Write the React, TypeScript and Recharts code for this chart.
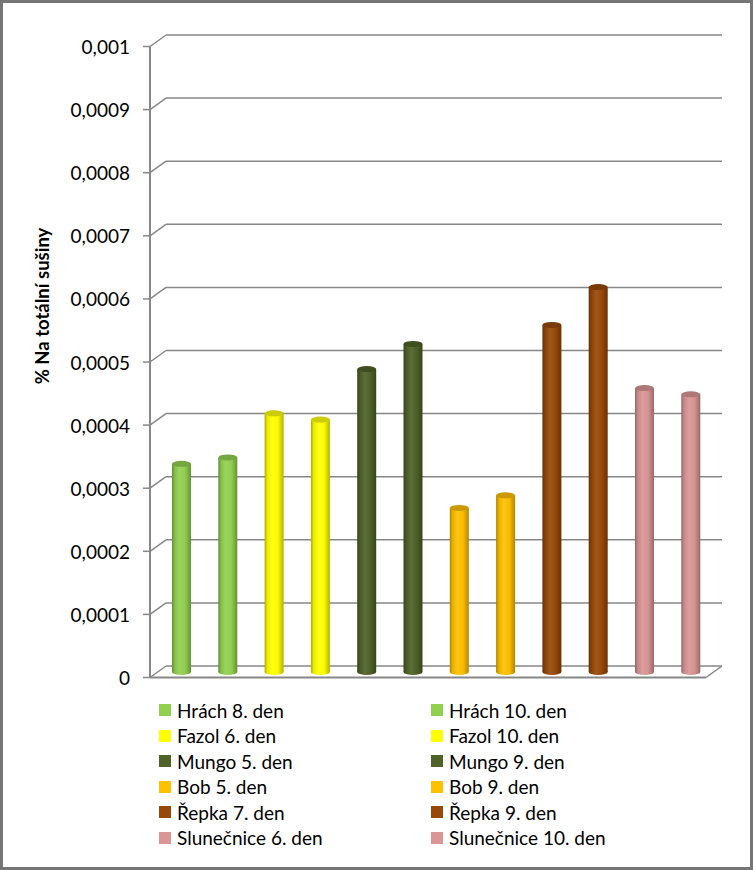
import { BarChart, Bar, XAxis, YAxis, CartesianGrid } from "recharts";

const categories = [
  "Hrách 8. den",
  "Hrách 10. den",
  "Fazol 6. den",
  "Fazol 10. den",
  "Mungo 5. den",
  "Mungo 9. den",
  "Bob 5. den",
  "Bob 9. den",
  "Řepka 7. den",
  "Řepka 9. den",
  "Slunečnice 6. den",
  "Slunečnice 10. den",
];
const values = [
  0.00033, 0.00034, 0.00041, 0.0004, 0.00048, 0.00052, 0.00026, 0.00028,
  0.00055, 0.00061, 0.00045, 0.00044,
];
const colors = [
  "#92D050", "#92D050", "#FFFF00", "#FFFF00", "#4F6228", "#4F6228",
  "#FFC000", "#FFC000", "#984807", "#984807", "#D99694", "#D99694",
];
const yTicks = [0, 0.0001, 0.0002, 0.0003, 0.0004, 0.0005, 0.0006, 0.0007, 0.0008, 0.0009, 0.001];
const yTitle = "% Na totální sušiny";

const data = categories.map((name, i) => ({ name, value: values[i] }));

const W = 753;
const H = 870;
const PLOT_TOP = 41;
const PLOT_H = 631;
const PLOT_LEFT = 158;
const PLOT_RIGHT = 713.6;
const FRONT_X = 150;
const BACK_LEFT = 166;
const BACK_RIGHT = 722;
const FLOOR_RIGHT = 706;
const BACK_DY = -6;
const FRONT_DY = 5.5;
const LINE = "#878787";
const FONT = "Lato, 'Open Sans', sans-serif";

function shade(hex: string, f: number) {
  const n = parseInt(hex.slice(1), 16);
  const ch = [(n >> 16) & 255, (n >> 8) & 255, n & 255].map((c) =>
    f >= 1 ? Math.round(c + (255 - c) * (f - 1)) : Math.round(c * f)
  );
  return `rgb(${ch[0]},${ch[1]},${ch[2]})`;
}

function Cylinder(props: any) {
  const { x, y, width, height, index } = props;
  const c = colors[index];
  const rx = width / 2;
  const ry = 3;
  return (
    <g>
      <rect x={x} y={y} width={width} height={height} fill={`url(#cyl-${index})`} />
      <ellipse cx={x + rx} cy={y + height} rx={rx} ry={ry} fill={`url(#cyl-${index})`} />
      <ellipse cx={x + rx} cy={y} rx={rx} ry={ry} fill={shade(c, 0.8)} />
    </g>
  );
}

function gridLine(p: any) {
  const y = p.y1;
  const back = y + BACK_DY;
  const front = y + FRONT_DY;
  const isFloor = Math.abs(y - (PLOT_TOP + PLOT_H)) < 0.5;
  const s = { stroke: LINE, strokeWidth: 1.5 };
  return (
    <g key={p.key}>
      <line x1={BACK_LEFT} x2={BACK_RIGHT} y1={back} y2={back} {...s} />
      <line x1={FRONT_X} y1={front} x2={BACK_LEFT} y2={back} {...s} />
      <line x1={FRONT_X - 7} x2={FRONT_X} y1={front} y2={front} {...s} />
      {isFloor && (
        <>
          <line x1={FRONT_X} x2={FRONT_X} y1={front} y2={front - PLOT_H} {...s} strokeWidth={2} />
          <line x1={FRONT_X} x2={FLOOR_RIGHT} y1={front} y2={front} {...s} strokeWidth={2} />
          <line x1={FLOOR_RIGHT} y1={front} x2={BACK_RIGHT} y2={back} {...s} />
        </>
      )}
    </g>
  );
}

function YTick(props: any) {
  const { y, payload } = props;
  return (
    <text
      x={130}
      y={y + FRONT_DY}
      textAnchor="end"
      dominantBaseline="central"
      fontSize={19}
      fontFamily={FONT}
      fill="#000"
    >
      {String(payload.value).replace(".", ",")}
    </text>
  );
}

export default function App() {
  return (
    <div style={{ position: "absolute", left: 0, top: 0, width: W, height: H, background: "#fff" }}>
      <BarChart
        width={W}
        height={H}
        data={data}
        margin={{ top: PLOT_TOP, right: W - PLOT_RIGHT, bottom: H - PLOT_TOP - PLOT_H, left: PLOT_LEFT - 100 }}
      >
        <defs>
          {colors.map((c, i) => (
            <linearGradient key={i} id={`cyl-${i}`} x1="0" y1="0" x2="1" y2="0">
              <stop offset="0%" stopColor={shade(c, 0.68)} />
              <stop offset="15%" stopColor={shade(c, 0.92)} />
              <stop offset="40%" stopColor={shade(c, 1.08)} />
              <stop offset="70%" stopColor={shade(c, 0.98)} />
              <stop offset="100%" stopColor={shade(c, 0.7)} />
            </linearGradient>
          ))}
        </defs>
        <CartesianGrid vertical={false} horizontal={gridLine} />
        <XAxis dataKey="name" hide />
        <YAxis
          width={100}
          domain={[0, 0.001]}
          ticks={yTicks}
          axisLine={false}
          tickLine={false}
          tick={YTick}
          label={{
            content: () => (
              <text
                x={42}
                y={306}
                transform="rotate(-90 42 306)"
                textAnchor="middle"
                dominantBaseline="central"
                fontSize={18.5}
                fontWeight="bold"
                fontFamily={FONT}
                fill="#000"
              >
                {yTitle}
              </text>
            ),
          }}
        />
        <Bar dataKey="value" barSize={19} shape={Cylinder} isAnimationActive={false} />
      </BarChart>

      {categories.map((name, i) => {
        const col = i % 2;
        const row = Math.floor(i / 2);
        const cy = 710 + row * 25.5;
        const sx = col === 0 ? 159 : 431;
        return (
          <div
            key={name}
            style={{
              position: "absolute",
              left: sx,
              top: cy - 12,
              height: 24,
              display: "flex",
              alignItems: "center",
              fontFamily: FONT,
              fontSize: 19,
              color: "#000",
              whiteSpace: "nowrap",
            }}
          >
            <span style={{ width: 12, height: 12, background: colors[i], marginRight: 6 }} />
            {name}
          </div>
        );
      })}

      <div
        style={{
          position: "absolute",
          left: 0,
          top: 0,
          width: W,
          height: H,
          boxSizing: "border-box",
          border: "3px solid #767676",
          pointerEvents: "none",
        }}
      />
    </div>
  );
}
